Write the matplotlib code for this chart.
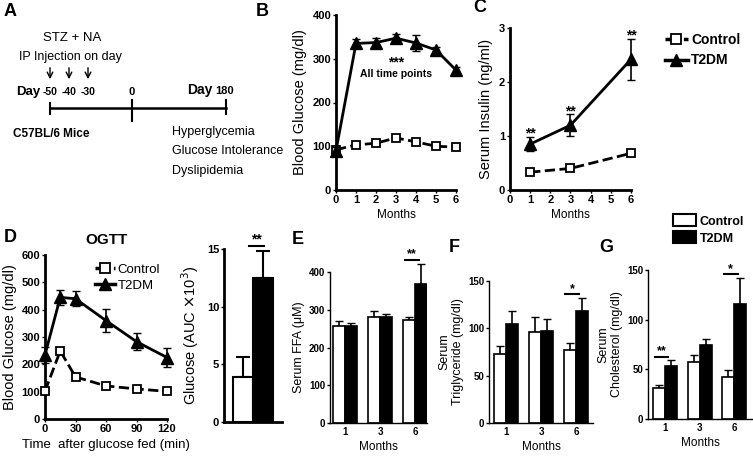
import numpy as np
import matplotlib.pyplot as plt
from matplotlib.lines import Line2D
from matplotlib.patches import Patch

W, H = 753, 459
NARROW = ['Liberation Sans Narrow', 'Liberation Sans', 'DejaVu Sans']
plt.rcParams['font.family'] = ['Liberation Sans', 'DejaVu Sans']

# ---- data ----
# B: blood glucose over months
months_b = [0, 1, 2, 3, 4, 5, 6]
glu_ctrl = [92, 103, 107, 119, 110, 100, 98]
glu_ctrl_err = [5, 6, 6, 6, 6, 5, 5]
glu_t2dm = [90, 335, 337, 347, 336, 320, 274]
glu_t2dm_err = [8, 10, 10, 10, 18, 8, 8]

# C: serum insulin
months_c = [1, 3, 6]
ins_ctrl = [0.33, 0.40, 0.68]
ins_ctrl_err = [0.03, 0.04, 0.04]
ins_t2dm = [0.85, 1.20, 2.42]
ins_t2dm_err = [0.13, 0.20, 0.38]

# D: OGTT
ogtt_t = [0, 15, 30, 60, 90, 120]
ogtt_ctrl = [102, 249, 154, 121, 110, 101]
ogtt_ctrl_err = [8, 10, 6, 6, 5, 5]
ogtt_t2dm = [235, 445, 440, 360, 283, 225]
ogtt_t2dm_err = [30, 27, 27, 42, 30, 33]
auc_vals = [3.9, 12.5]
auc_err = [1.7, 2.3]

# E-G: lipids
lip_months = ['1', '3', '6']
ffa_ctrl = [257, 281, 272]
ffa_ctrl_err = [14, 15, 10]
ffa_t2dm = [258, 280, 367]
ffa_t2dm_err = [8, 9, 55]
tg_ctrl = [73, 96, 77]
tg_ctrl_err = [8, 16, 7]
tg_t2dm = [105, 97, 118]
tg_t2dm_err = [13, 13, 14]
chol_ctrl = [31, 57, 42]
chol_ctrl_err = [3, 7, 7]
chol_t2dm = [53, 75, 116]
chol_t2dm_err = [6, 6, 26]

# A: schematic timeline
inj_days = ['-50', '-40', '-30']
outcomes = ['Hyperglycemia', 'Glucose Intolerance', 'Dyslipidemia']

fig = plt.figure(figsize=(W / 100, H / 100), dpi=100)


def ax_px(x0, y0, x1, y1):
    return fig.add_axes([x0 / W, 1 - y1 / H, (x1 - x0) / W, (y1 - y0) / H])


def style(ax, lw=2.0, size=8):
    for s in ['top', 'right']:
        ax.spines[s].set_visible(False)
    for s in ['left', 'bottom']:
        ax.spines[s].set_linewidth(lw)
    ax.tick_params(length=2, width=1, labelsize=size, pad=1.5)
    for lbl in ax.get_xticklabels() + ax.get_yticklabels():
        lbl.set_fontweight('bold')
        lbl.set_family(NARROW)


def letter(x, y, s):
    fig.text(x / W, 1 - y / H, s, fontsize=13, fontweight='bold',
             ha='left', va='center')


def line_series(ax, x, y, e, ctrl):
    if ctrl:
        ax.errorbar(x, y, yerr=e, color='black', ls='--', lw=2, marker='s',
                    mfc='white', mec='black', ms=6, mew=1.3, capsize=3,
                    elinewidth=1.2, clip_on=False, zorder=3)
    else:
        ax.errorbar(x, y, yerr=e, color='black', ls='-', lw=2, marker='^',
                    ms=8, capsize=3, elinewidth=1.2, clip_on=False, zorder=4)


# ---- A ----
axA = ax_px(0, 0, 250, 200)
axA.set_xlim(0, 250)
axA.set_ylim(200, 0)
axA.axis('off')
letter(4, 12, 'A')
tx = [50, 69, 88]
axA.text(72, 38, 'STZ + NA', fontsize=9.5, ha='center', va='center')
axA.text(70, 57, 'IP Injection on day', fontsize=9, ha='center', va='center')
for x, d in zip(tx, inj_days):
    axA.annotate('', xy=(x, 82), xytext=(x, 65),
                 arrowprops=dict(arrowstyle='->', lw=1.0, color='black'))
    axA.text(x, 92, d, fontsize=7.5, ha='center', va='center', family=NARROW,
             fontweight='bold')
axA.text(40, 92, 'Day', fontsize=9.5, ha='right', va='center', fontweight='bold')
axA.text(132, 92, '0', fontsize=8, ha='center', va='center', fontweight='bold',
         family=NARROW)
axA.text(212, 90, 'Day', fontsize=10, ha='right', va='center', fontweight='bold')
axA.text(225, 91, '180', fontsize=8, ha='center', va='center', fontweight='bold',
         family=NARROW)
axA.plot([50, 226], [108, 108], color='black', lw=1.8)
axA.plot([50, 50], [103, 114], color='black', lw=1.5)
axA.plot([132, 132], [100, 121], color='black', lw=1.5)
axA.plot([226, 226], [100, 114], color='black', lw=1.5)
axA.text(51, 134, 'C57BL/6 Mice', fontsize=8.5, ha='center', va='center',
         fontweight='bold', family=NARROW)
for i, s in enumerate(outcomes):
    axA.text(172, 132 + 19.5 * i, s, fontsize=9, ha='left', va='center')

# ---- B ----
axB = ax_px(336, 15, 456, 190)
line_series(axB, months_b, glu_ctrl, glu_ctrl_err, True)
line_series(axB, months_b, glu_t2dm, glu_t2dm_err, False)
axB.set_xlim(0, 6)
axB.set_ylim(0, 400)
axB.set_xticks(months_b)
axB.set_yticks([0, 100, 200, 300, 400])
axB.set_xlabel('Months', fontsize=8.5, family=NARROW, labelpad=3)
axB.set_ylabel('Blood Glucose (mg/dl)', fontsize=10.5, labelpad=4)
axB.text(3, 292, '***', fontsize=10, ha='center', va='center', fontweight='bold')
axB.text(3, 265, 'All time points', fontsize=7.5, ha='center', va='center',
         fontweight='bold', family=NARROW)
style(axB)
letter(256, 12, 'B')

# ---- C ----
axC = ax_px(510, 28, 631, 190)
line_series(axC, months_c, ins_ctrl, ins_ctrl_err, True)
line_series(axC, months_c, ins_t2dm, ins_t2dm_err, False)
axC.set_xlim(0, 6)
axC.set_ylim(0, 3)
axC.set_xticks(range(7))
axC.set_yticks([0, 1, 2, 3])
axC.set_xlabel('Months', fontsize=8.5, family=NARROW, labelpad=3)
axC.set_ylabel('Serum Insulin (ng/ml)', fontsize=10.5, labelpad=4)
for m, v, e in zip(months_c, ins_t2dm, ins_t2dm_err):
    axC.text(m, v + e + 0.06, '**', fontsize=10, ha='center', va='center',
             fontweight='bold')
style(axC)
letter(473, 8, 'C')

handles = [Line2D([], [], color='black', ls='--', lw=2.5, marker='s', mfc='white',
                  mec='black', ms=7, mew=1.3),
           Line2D([], [], color='black', ls='-', lw=2.5, marker='^', ms=9)]
fig.legend(handles, ['Control', 'T2DM'], loc='upper left',
           bbox_to_anchor=(652 / W, 1 - 20 / H), frameon=False,
           handlelength=1.7, handletextpad=0.2, labelspacing=0.5,
           prop={'family': NARROW, 'weight': 'bold', 'size': 10})

# ---- D (OGTT) ----
axD = ax_px(45, 255, 167, 419)
line_series(axD, ogtt_t, ogtt_ctrl, ogtt_ctrl_err, True)
line_series(axD, ogtt_t, ogtt_t2dm, ogtt_t2dm_err, False)
axD.set_xlim(0, 120)
axD.set_ylim(0, 600)
axD.set_xticks(ogtt_t[:1] + ogtt_t[2:])
axD.set_yticks(range(0, 601, 100))
axD.set_xlabel('Time  after glucose fed (min)', fontsize=9.5, labelpad=4)
axD.set_ylabel('Blood Glucose (mg/dl)', fontsize=10.5, labelpad=3)
axD.set_title('OGTT', fontsize=11, fontweight='bold', pad=8)
axD.legend(handles, ['Control', 'T2DM'], loc='upper right', frameon=False,
           bbox_to_anchor=(1.04, 1.02), handlelength=1.5, handletextpad=0.2,
           labelspacing=0.3, prop={'family': NARROW, 'size': 9.5})
style(axD)
letter(4, 237, 'D')

# ---- D (AUC bars) ----
axAUC = ax_px(224, 249, 282, 422)
axAUC.bar([0, 1], auc_vals, width=1.0, color=['white', 'black'],
          edgecolor='black', lw=1.5, zorder=2)
axAUC.errorbar([0, 1], auc_vals, yerr=[[0, 0], auc_err], fmt='none',
               ecolor='black', capsize=5, elinewidth=1.5, capthick=1.5,
               clip_on=False, zorder=1)
axAUC.set_xlim(-0.925, 1.975)
axAUC.set_ylim(0, 15)
axAUC.set_xticks([])
axAUC.set_yticks([0, 5, 10, 15])
axAUC.set_ylabel(r'Glucose (AUC $\times$10$^3$)', fontsize=10.5, labelpad=4)
top = max(v + e for v, e in zip(auc_vals, auc_err))
axAUC.plot([0.3, 1.05], [top + 0.5, top + 0.5], color='black', lw=1.5,
           clip_on=False)
axAUC.text(0.68, top + 1.0, '**', fontsize=10, ha='center', va='center',
           fontweight='bold')
style(axAUC)


# ---- E, F, G ----
def lipid_panel(box, ctrl, ctrl_err, t2dm, t2dm_err, ymax, yticks, ylabel,
                xlim, sig):
    ax = ax_px(*box)
    x = np.arange(len(lip_months))
    w = 0.343
    ax.bar(x - w / 2, ctrl, width=w, color='white', edgecolor='black', lw=1.2,
           zorder=2)
    ax.bar(x + w / 2, t2dm, width=w, color='black', edgecolor='black', lw=1.2,
           zorder=2)
    ax.errorbar(x - w / 2, ctrl, yerr=[np.zeros(3), ctrl_err], fmt='none',
                ecolor='black', capsize=3, elinewidth=1.2, clip_on=False, zorder=1)
    ax.errorbar(x + w / 2, t2dm, yerr=[np.zeros(3), t2dm_err], fmt='none',
                ecolor='black', capsize=3, elinewidth=1.2, clip_on=False, zorder=1)
    ax.set_xlim(*xlim)
    ax.set_ylim(0, ymax)
    ax.set_xticks(x)
    ax.set_xticklabels(lip_months)
    ax.set_yticks(yticks)
    ax.set_xlabel('Months', fontsize=8.5, family=NARROW, labelpad=3)
    ax.set_ylabel(ylabel, fontsize=9, labelpad=3)
    for i, stars in sig:
        top = max(ctrl[i] + ctrl_err[i], t2dm[i] + t2dm_err[i])
        y = top + ymax * 0.025
        ax.plot([i - 0.3, i + 0.1], [y, y], color='black', lw=1.5, clip_on=False)
        ax.text(i - 0.1, y + ymax * 0.035, stars, fontsize=9, ha='center',
                va='center', fontweight='bold')
    style(ax, lw=1.0, size=7)
    ax.tick_params(axis='x', length=0, pad=3)
    return ax


lipid_panel((330, 272, 427, 423), ffa_ctrl, ffa_ctrl_err, ffa_t2dm, ffa_t2dm_err,
            400, [0, 100, 200, 300, 400], 'Serum FFA (\u03bcM)', (-0.43, 2.34),
            [(2, '**')])
letter(292, 240, 'E')

lipid_panel((489, 281, 593, 423), tg_ctrl, tg_ctrl_err, tg_t2dm, tg_t2dm_err,
            150, [0, 50, 100, 150], 'Serum\nTriglyceride (mg/dl)', (-0.49, 2.49),
            [(2, '*')])
letter(449, 247, 'F')

lipid_panel((648, 270, 752, 419), chol_ctrl, chol_ctrl_err, chol_t2dm,
            chol_t2dm_err, 150, [0, 50, 100, 150], 'Serum\nCholesterol (mg/dl)',
            (-0.49, 2.51), [(0, '**'), (2, '*')])
letter(599, 247, 'G')

bar_handles = [Patch(facecolor='white', edgecolor='black', lw=1.5),
               Patch(facecolor='black', edgecolor='black', lw=1.5)]
fig.legend(bar_handles, ['Control', 'T2DM'], loc='upper left',
           bbox_to_anchor=(662 / W, 1 - 203 / H), frameon=False,
           handlelength=1.8, handleheight=1.1, handletextpad=0.3,
           labelspacing=0.3, prop={'family': NARROW, 'weight': 'bold',
                                   'size': 9})

fig.savefig('out.png', dpi=100)
